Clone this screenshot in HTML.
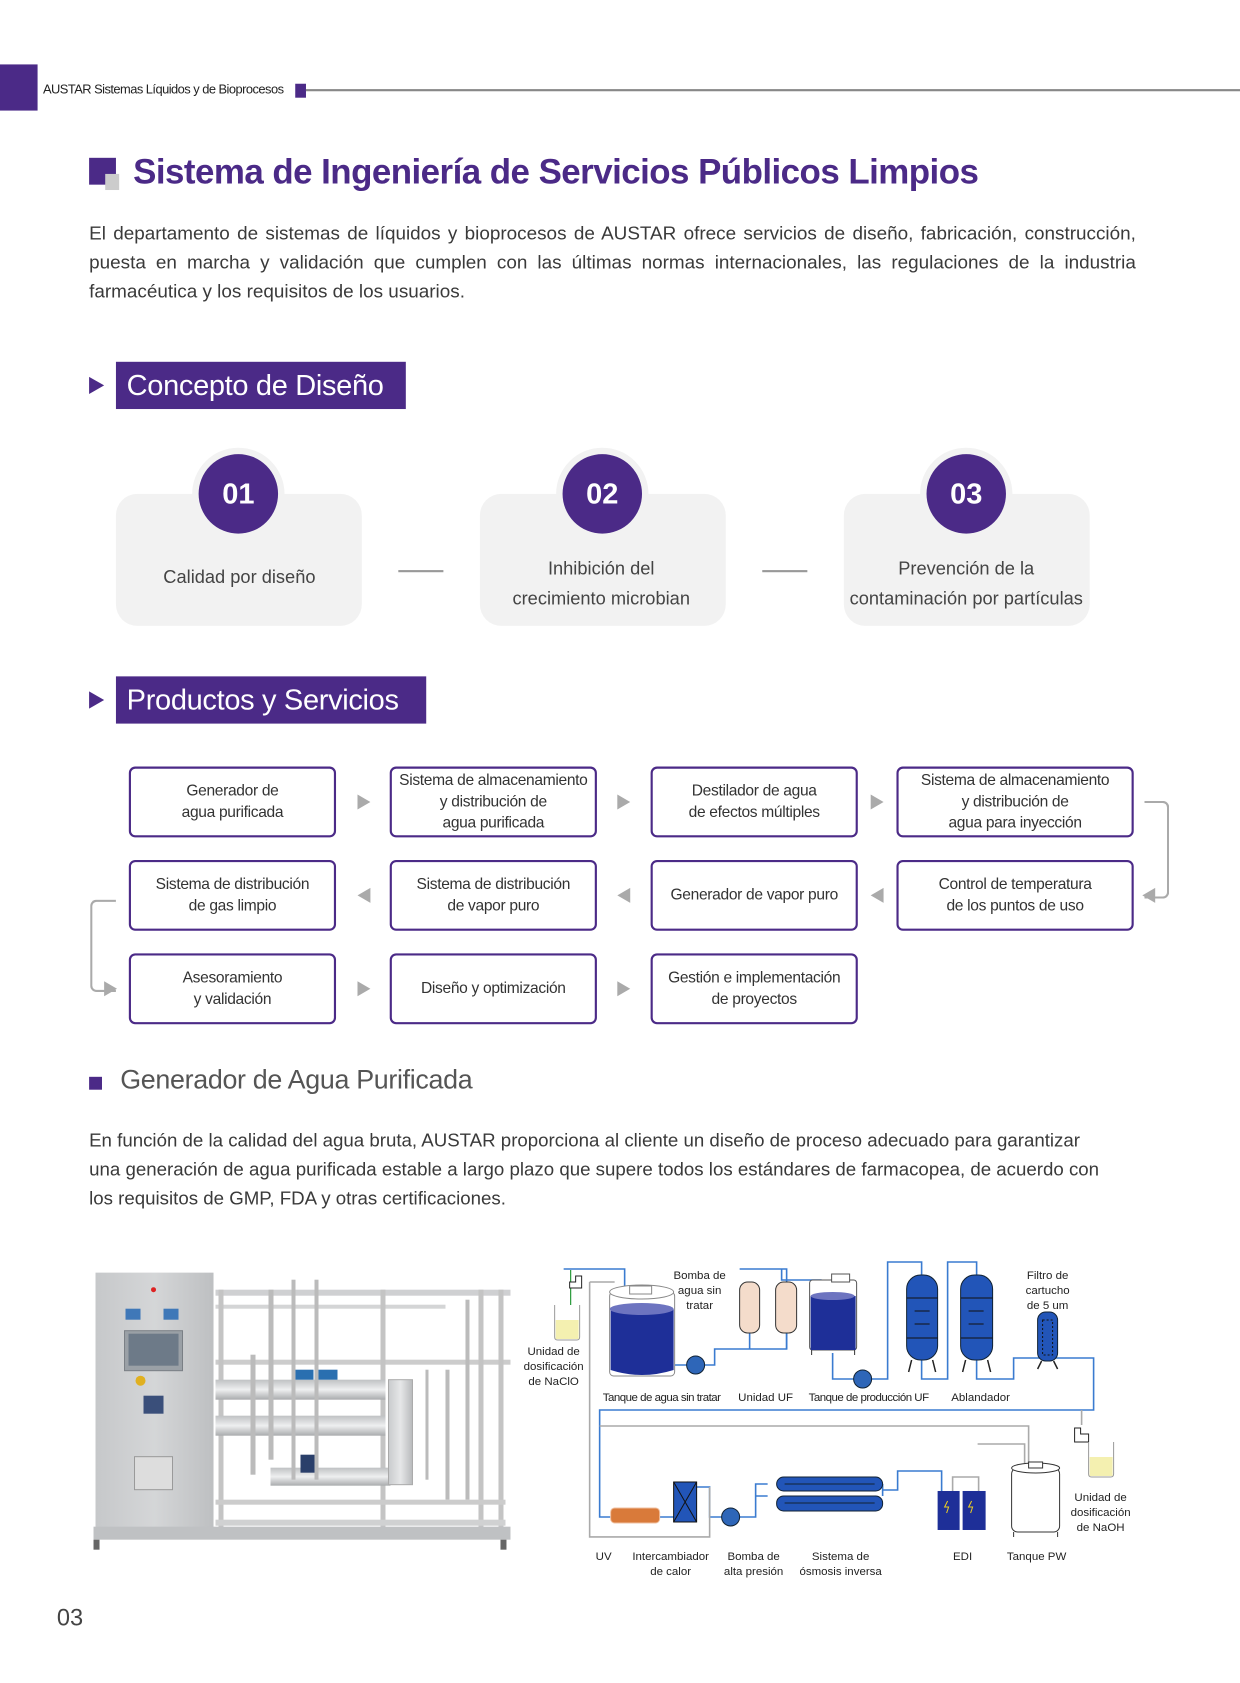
<!DOCTYPE html>
<html><head><meta charset="utf-8">
<style>
html,body{margin:0;padding:0;background:#fff;}
body{width:1240px;height:1683px;overflow:hidden;position:relative;font-family:"Liberation Sans",sans-serif;}
#w{position:absolute;left:0;top:0;width:1155px;height:1568px;transform:scale(1.0736);transform-origin:0 0;}
.a{position:absolute;}
.p{color:#3a3a3a;font-size:17px;line-height:27px;letter-spacing:0px;}
.sec{background:#4b2a87;color:#fff;font-size:27px;height:44px;line-height:44px;padding-left:10px;letter-spacing:-0.3px;}
.tri{width:0;height:0;border-top:8px solid transparent;border-bottom:8px solid transparent;border-left:14px solid #4b2a87;}
.card{background:#f2f2f2;border-radius:20px;width:229px;height:123px;top:460px;}
.circ{width:74px;height:74px;border-radius:50%;background:#4b2a87;border:6px solid #f2f2f2;color:#fff;font-weight:bold;font-size:27px;text-align:center;line-height:74px;top:417px;}
.ct{text-align:center;color:#444;font-size:17px;line-height:28px;width:240px;}
.dash{height:2px;background:#999;width:42px;top:531px;}
.bx{border:2px solid #4b2a87;border-radius:6px;box-sizing:border-box;height:66px;display:flex;align-items:center;justify-content:center;text-align:center;font-size:14.5px;line-height:20px;color:#333;letter-spacing:-0.3px;}
.ar{width:0;height:0;border-top:7px solid transparent;border-bottom:7px solid transparent;}
.r{border-left:12px solid #aaa;}
.l{border-right:12px solid #aaa;}
</style></head><body><div id="w">
<div class="a" style="left:0;top:60px;width:35px;height:43px;background:#4b2a87"></div>
<div class="a" style="left:40px;top:76px;font-size:12px;color:#222;letter-spacing:-0.5px">AUSTAR Sistemas Líquidos y de Bioprocesos</div>
<div class="a" style="left:275px;top:78px;width:10px;height:13px;background:#4b2a87"></div>
<div class="a" style="left:285px;top:83px;width:870px;height:2px;background:#888"></div>

<div class="a" style="left:83px;top:147px;width:25px;height:25px;background:#4b2a87"></div>
<div class="a" style="left:98px;top:162px;width:13px;height:15px;background:#ccc"></div>
<div class="a" style="left:124px;top:142px;font-size:32.5px;font-weight:bold;color:#4b2a87;letter-spacing:-0.5px">Sistema de Ingeniería de Servicios Públicos Limpios</div>

<div class="a p" style="left:83px;top:204px;width:975px;text-align:justify;text-align-last:left;font-size:17.6px">El departamento de sistemas de líquidos y bioprocesos de AUSTAR ofrece servicios de diseño, fabricación, construcción, puesta en marcha y validación que cumplen con las últimas normas internacionales, las regulaciones de la industria farmacéutica y los requisitos de los usuarios.</div>

<div class="a tri" style="left:83px;top:351px"></div>
<div class="a sec" style="left:108px;top:337px;width:260px">Concepto de Diseño</div>

<div class="a card" style="left:108px"></div>
<div class="a card" style="left:447px"></div>
<div class="a card" style="left:786px"></div>
<div class="a circ" style="left:179px">01</div>
<div class="a circ" style="left:518px">02</div>
<div class="a circ" style="left:857px">03</div>
<div class="a ct" style="left:103px;top:524px">Calidad por diseño</div>
<div class="a ct" style="left:440px;top:516px">Inhibición del<br>crecimiento microbian</div>
<div class="a ct" style="left:780px;top:516px">Prevención de la<br>contaminación por partículas</div>
<div class="a dash" style="left:371px"></div>
<div class="a dash" style="left:710px"></div>

<div class="a tri" style="left:83px;top:644px"></div>
<div class="a sec" style="left:108px;top:630px;width:279px">Productos y Servicios</div>

<div class="a bx" style="left:120px;top:714px;width:193px">Generador de<br>agua purificada</div>
<div class="a bx" style="left:363px;top:714px;width:193px">Sistema de almacenamiento<br>y distribución de<br>agua purificada</div>
<div class="a bx" style="left:606px;top:714px;width:193px">Destilador de agua<br>de efectos múltiples</div>
<div class="a bx" style="left:835px;top:714px;width:221px">Sistema de almacenamiento<br>y distribución de<br>agua para inyección</div>
<div class="a bx" style="left:120px;top:801px;width:193px">Sistema de distribución<br>de gas limpio</div>
<div class="a bx" style="left:363px;top:801px;width:193px">Sistema de distribución<br>de vapor puro</div>
<div class="a bx" style="left:606px;top:801px;width:193px">Generador de vapor puro</div>
<div class="a bx" style="left:835px;top:801px;width:221px">Control de temperatura<br>de los puntos de uso</div>
<div class="a bx" style="left:120px;top:888px;width:193px">Asesoramiento<br>y validación</div>
<div class="a bx" style="left:363px;top:888px;width:193px">Diseño y optimización</div>
<div class="a bx" style="left:606px;top:888px;width:193px">Gestión e implementación<br>de proyectos</div>

<div class="a ar r" style="left:333px;top:740px"></div>
<div class="a ar r" style="left:575px;top:740px"></div>
<div class="a ar r" style="left:811px;top:740px"></div>
<div class="a ar l" style="left:333px;top:827px"></div>
<div class="a ar l" style="left:575px;top:827px"></div>
<div class="a ar l" style="left:811px;top:827px"></div>
<div class="a ar r" style="left:333px;top:914px"></div>
<div class="a ar r" style="left:575px;top:914px"></div>
<div class="a" style="left:1066px;top:746px;width:21px;height:87px;border:2px solid #aaa;border-left:none;border-radius:0 6px 6px 0"></div>
<div class="a ar l" style="left:1064px;top:827px"></div>
<div class="a" style="left:84px;top:838px;width:22px;height:82px;border:2px solid #aaa;border-right:none;border-radius:6px 0 0 6px"></div>
<div class="a ar r" style="left:97px;top:914px"></div>

<div class="a" style="left:83px;top:1003px;width:12px;height:12px;background:#4b2a87"></div>
<div class="a" style="left:112px;top:992px;font-size:25px;color:#555;letter-spacing:-0.3px">Generador de Agua Purificada</div>
<div class="a p" style="left:83px;top:1049px;width:945px;font-size:17.4px">En función de la calidad del agua bruta, AUSTAR proporciona al cliente un diseño de proceso adecuado para garantizar una generación de agua purificada estable a largo plazo que supere todos los estándares de farmacopea, de acuerdo con los requisitos de GMP, FDA y otras certificaciones.</div>

<svg class="a" style="left:74.5px;top:1164.3px" width="409.8" height="298.1" viewBox="80 1250 440 320">
<defs><linearGradient id="st" x1="0" x2="1"><stop offset="0" stop-color="#c9cbcd"/><stop offset="0.5" stop-color="#e6e7e8"/><stop offset="1" stop-color="#b8babc"/></linearGradient>
<linearGradient id="tb" x1="0" y1="0" x2="0" y2="1"><stop offset="0" stop-color="#bfc1c3"/><stop offset="0.5" stop-color="#eeeff0"/><stop offset="1" stop-color="#a9abad"/></linearGradient></defs>
<rect x="215" y="1290" width="295" height="6" fill="#cfd0d2"/>
<rect x="215" y="1305" width="230" height="4" fill="#d4d5d6"/>
<rect x="215" y="1360" width="295" height="5" fill="#ccc"/>
<rect x="218" y="1290" width="5" height="240" fill="#c4c4c4"/>
<rect x="380" y="1290" width="5" height="240" fill="#c4c4c4"/>
<rect x="478" y="1290" width="5" height="240" fill="#c4c4c4"/>
<rect x="498" y="1290" width="5" height="240" fill="#c4c4c4"/>
<rect x="215" y="1380" width="170" height="20" fill="url(#tb)"/>
<rect x="215" y="1416" width="170" height="20" fill="url(#tb)"/>
<rect x="270" y="1468" width="120" height="18" fill="url(#tb)"/>
<rect x="388" y="1380" width="24" height="105" fill="url(#st)" stroke="#aaa"/>
<rect x="293" y="1370" width="20" height="10" fill="#2a6fb0"/>
<rect x="317" y="1370" width="20" height="10" fill="#2a6fb0"/>
<rect x="300" y="1455" width="18" height="18" fill="#2a3f6a"/>
<rect x="250" y="1355" width="5" height="120" fill="#bbb"/>
<rect x="268" y="1290" width="5" height="170" fill="#bbb"/>
<rect x="291" y="1280" width="4" height="200" fill="#bbb"/>
<rect x="314" y="1280" width="4" height="200" fill="#bbb"/>
<rect x="425" y="1370" width="3" height="110" fill="#bbb"/>
<rect x="445" y="1370" width="4" height="130" fill="#bbb"/>
<rect x="465" y="1300" width="4" height="200" fill="#bbb"/>
<rect x="215" y="1500" width="290" height="5" fill="#ccc"/>
<rect x="215" y="1520" width="290" height="6" fill="#d0d1d2"/>
<rect x="95" y="1273" width="118" height="255" fill="#c3c5c7"/>
<rect x="95" y="1273" width="118" height="255" fill="url(#st)" opacity="0.5"/>
<circle cx="153" cy="1290" r="2.5" fill="#d22"/>
<rect x="125" y="1309" width="15" height="11" fill="#3f78b8"/>
<rect x="163" y="1309" width="15" height="11" fill="#3f78b8"/>
<rect x="124" y="1331" width="58" height="40" fill="#9aa0a6" stroke="#7a7f85"/>
<rect x="128" y="1334" width="50" height="32" fill="#6d7a88"/>
<circle cx="140" cy="1381" r="5" fill="#e0b020"/>
<rect x="143" y="1396" width="20" height="18" fill="#3a4f7a"/>
<rect x="134" y="1457" width="38" height="33" fill="#ddd" stroke="#999"/>
<rect x="93" y="1527" width="417" height="13" fill="#bfc1c3"/>
<rect x="93" y="1540" width="6" height="10" fill="#666"/><rect x="500" y="1540" width="6" height="10" fill="#666"/>
</svg>

<svg class="a" style="left:484.3px;top:1155px" width="577.5" height="335.3" viewBox="520 1240 620 360" font-family="Liberation Sans, sans-serif" font-size="11.5" fill="#222">
<g fill="none" stroke="#3a7bd0" stroke-width="1.6">
<path d="M564 1269 H625 V1289"/>
<path d="M675 1365 H715 V1349 H787 V1269 H740"/>
<path d="M750 1349 V1333 M787 1333 V1349"/>
<path d="M782 1269 V1280 H822"/>
<path d="M833 1353 V1379 H888 V1262 H922 V1277"/>
<path d="M922 1360 V1379 H948 V1262 H977 V1277"/>
<path d="M977 1360 V1379 H1014 V1358 H1094 V1410 H600 V1517 H611"/>
<path d="M660 1517 H674 M697 1487 H710 V1517 H756 V1496 H768 M756 1496 V1484 H768 M883 1484 V1496 M883 1490 H898 V1471 H942 V1491"/>
</g>
<g fill="none" stroke="#aaa" stroke-width="1.6">
<path d="M590 1282 H615 M590 1282 V1537 H710 V1487"/>
<path d="M600 1426 H1029 V1464"/>
<path d="M979 1491 V1477 H953 V1491 M978 1444 H1025 V1464"/>
<path d="M1082 1410 V1425"/>
</g>
<path d="M571 1270 V1306" stroke="#2a9a3a" stroke-width="1.2"/>
<path d="M570 1282 h6 v-6 h6 v12 h-12 z" fill="#fff" stroke="#222"/>
<path d="M555 1305 v32 q0 3 3 3 h19 q3 0 3 -3 v-32" fill="#fff" stroke="#999"/>
<rect x="556" y="1320" width="23" height="19" fill="#f4f0b0"/>
<path d="M1075 1428 h6 v6 h8 v8 h-14 z" fill="#fff" stroke="#222"/>
<path d="M1089 1442 v32 q0 3 3 3 h19 q3 0 3 -3 v-32" fill="#fff" stroke="#999"/>
<rect x="1090" y="1457" width="23" height="19" fill="#f4f0b0"/>
<rect x="610" y="1292" width="65" height="84" rx="4" fill="#fff" stroke="#888"/>
<ellipse cx="642" cy="1292" rx="32" ry="7" fill="#fff" stroke="#888"/>
<rect x="630" y="1286" width="22" height="8" fill="#fff" stroke="#888"/>
<path d="M611 1309 H674 V1370 Q642 1380 611 1370 Z" fill="#1e2f98"/>
<ellipse cx="642" cy="1309" rx="32" ry="6" fill="#6d74c0"/>
<circle cx="696" cy="1365" r="9" fill="#2e66b8" stroke="#123"/>
<circle cx="863" cy="1379" r="9" fill="#2e66b8" stroke="#123"/>
<circle cx="731" cy="1517" r="9" fill="#2e66b8" stroke="#123"/>
<rect x="740" y="1282" width="20" height="51" rx="8" fill="#f4dccb" stroke="#333"/>
<rect x="776" y="1282" width="21" height="51" rx="8" fill="#f4dccb" stroke="#333"/>
<rect x="810" y="1280" width="47" height="70" rx="3" fill="#fff" stroke="#555"/>
<rect x="832" y="1274" width="18" height="8" fill="#fff" stroke="#555"/>
<rect x="811" y="1296" width="45" height="54" fill="#1e2f98"/>
<ellipse cx="833" cy="1296" rx="22" ry="4" fill="#6d74c0"/>
<path d="M812 1350 v5 M855 1350 v5" stroke="#333"/>
<rect x="907" y="1275" width="31" height="85" rx="14" fill="#2255b8" stroke="#123"/>
<rect x="961" y="1275" width="32" height="85" rx="14" fill="#2255b8" stroke="#123"/>
<path d="M907 1298 H938 M907 1338 H938 M961 1298 H993 M961 1338 H993 M915 1311 h15 M915 1324 h15 M969 1311 h15 M969 1324 h15" stroke="#111"/>
<path d="M912 1360 l-3 12 M933 1360 l3 12 M966 1360 l-3 12 M988 1360 l3 12 M1042 1361 l-4 8 M1054 1361 l4 8" stroke="#222" stroke-width="1.5"/>
<rect x="1038" y="1312" width="20" height="49" rx="8" fill="#2255b8" stroke="#123"/>
<rect x="1043" y="1320" width="10" height="35" fill="none" stroke="#111" stroke-dasharray="2 2"/>
<rect x="611" y="1508" width="49" height="15" rx="4" fill="#d97a3a" stroke="#f0c0a0"/>
<rect x="674" y="1482" width="23" height="40" fill="#2255b8" stroke="#111"/>
<path d="M674 1482 L697 1522 M697 1482 L674 1522" stroke="#111"/>
<rect x="777" y="1477" width="106" height="14" rx="7" fill="#2255b8" stroke="#123"/>
<rect x="777" y="1496" width="106" height="15" rx="7" fill="#2255b8" stroke="#123"/>
<path d="M785 1484 H875 M785 1503 H875" stroke="#123"/>
<rect x="938" y="1491" width="22" height="39" fill="#1e2f98"/>
<rect x="963" y="1491" width="23" height="39" fill="#1e2f98"/>
<path d="M948 1501 l-3 6 h4 l-2 6 M972 1501 l-3 6 h4 l-2 6" stroke="#f0d020" fill="none"/>
<rect x="1012" y="1468" width="48" height="64" rx="6" fill="#fff" stroke="#333"/>
<ellipse cx="1036" cy="1468" rx="24" ry="5" fill="#fff" stroke="#333"/>
<rect x="1029" y="1462" width="14" height="6" fill="#fff" stroke="#333"/>
<path d="M1014 1532 v5 M1058 1532 v5" stroke="#333"/>
<g text-anchor="middle">
<text x="554" y="1355">Unidad de</text><text x="554" y="1370">dosificación</text><text x="554" y="1385">de NaClO</text>
<text x="700" y="1279">Bomba de</text><text x="700" y="1294">agua sin</text><text x="700" y="1309">tratar</text>
<text x="1048" y="1279">Filtro de</text><text x="1048" y="1294">cartucho</text><text x="1048" y="1309">de 5 um</text>
<text x="662" y="1401" letter-spacing="-0.5">Tanque de agua sin tratar</text>
<text x="766" y="1401">Unidad UF</text>
<text x="869" y="1401" letter-spacing="-0.5">Tanque de producción UF</text>
<text x="981" y="1401">Ablandador</text>
<text x="1101" y="1501">Unidad de</text><text x="1101" y="1516">dosificación</text><text x="1101" y="1531">de NaOH</text>
<text x="604" y="1560">UV</text>
<text x="671" y="1560">Intercambiador</text><text x="671" y="1575">de calor</text>
<text x="754" y="1560">Bomba de</text><text x="754" y="1575">alta presión</text>
<text x="841" y="1560">Sistema de</text><text x="841" y="1575">ósmosis inversa</text>
<text x="963" y="1560">EDI</text>
<text x="1037" y="1560">Tanque PW</text>
</g>
</svg>

<div class="a" style="left:53px;top:1494px;font-size:22px;color:#444">03</div>
</div></body></html>
